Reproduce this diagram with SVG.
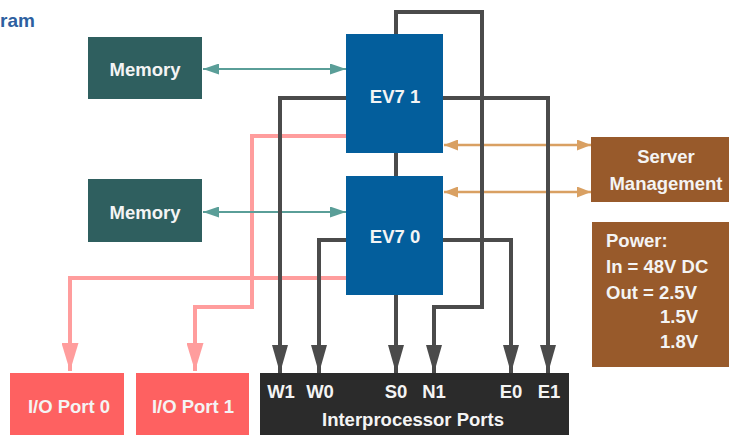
<svg xmlns="http://www.w3.org/2000/svg" width="729" height="435" viewBox="0 0 729 435">
<style>
text{font-family:"Liberation Sans",Arial,sans-serif;font-weight:bold;font-size:18.5px;fill:#f4f4f4}
.c{text-anchor:middle}
.g{fill:none;stroke:#4b4b4b;stroke-width:4;stroke-linejoin:miter}
.p{fill:none;stroke:#ff9d9d;stroke-width:4;stroke-linejoin:miter}
.t{fill:none;stroke:#5a9e98;stroke-width:2}
.o{fill:none;stroke:#d9a062;stroke-width:2.5}
.mem{fill:#2f5f5f}
.cpu{fill:#035e9c}
.brn{fill:#985a2b}
.io{fill:#fe6161}
</style>
<defs>
<marker id="ag" markerUnits="userSpaceOnUse" markerWidth="28" markerHeight="16" refX="28" refY="8" orient="auto"><path d="M0,0 L28,8 L0,16 z" fill="#4b4b4b"/></marker>
<marker id="ap" markerUnits="userSpaceOnUse" markerWidth="28" markerHeight="17" refX="28" refY="8.5" orient="auto"><path d="M0,0 L28,8.5 L0,17 z" fill="#ff9d9d"/></marker>
<marker id="at" markerUnits="userSpaceOnUse" markerWidth="16" markerHeight="11" refX="16" refY="5.5" orient="auto-start-reverse"><path d="M0,0 L16,5.5 L0,11 z" fill="#5a9e98"/></marker>
<marker id="ao" markerUnits="userSpaceOnUse" markerWidth="14" markerHeight="11" refX="14" refY="5.5" orient="auto-start-reverse"><path d="M0,0 L14,5.5 L0,11 z" fill="#d9a062"/></marker>
</defs>
<text x="0" y="27" style="fill:#2d5fa0;font-size:19px">ram</text>
<g id="connectors">
<path class="p" d="M346,136 H252 V307 H195 V371" marker-end="url(#ap)"/>
<path class="p" d="M346,278 H70 V371" marker-end="url(#ap)"/>
<path class="t" d="M203,69 H346" marker-start="url(#at)" marker-end="url(#at)"/>
<path class="t" d="M203,212 H346" marker-start="url(#at)" marker-end="url(#at)"/>
<path class="o" d="M444,145 H591" marker-start="url(#ao)" marker-end="url(#ao)"/>
<path class="o" d="M444,192 H591" marker-start="url(#ao)" marker-end="url(#ao)"/>
<path class="g" d="M396,34 V12 H482 V307 H434 V373" marker-end="url(#ag)"/>
<path class="g" d="M346,98 H280 V373" marker-end="url(#ag)"/>
<path class="g" d="M443,98 H548 V373" marker-end="url(#ag)"/>
<path class="g" d="M396,153 V176"/>
<path class="g" d="M346,240 H319 V373" marker-end="url(#ag)"/>
<path class="g" d="M443,240 H511 V373" marker-end="url(#ag)"/>
<path class="g" d="M396,295 V373" marker-end="url(#ag)"/>
</g>
<g id="memory1"><rect class="mem" x="88" y="37" width="114" height="62"/><text class="c" x="145" y="76">Memory</text></g>
<g id="memory0"><rect class="mem" x="88" y="179" width="114" height="63"/><text class="c" x="145" y="219">Memory</text></g>
<g id="ev7-1"><rect class="cpu" x="346" y="34" width="97" height="119"/><text class="c" x="395" y="103">EV7 1</text></g>
<g id="ev7-0"><rect class="cpu" x="346" y="176" width="97" height="119"/><text class="c" x="395" y="243">EV7 0</text></g>
<g id="server-management"><rect class="brn" x="591" y="137" width="140" height="65"/><text class="c" x="666" y="163">Server</text><text class="c" x="666" y="190">Management</text></g>
<g id="power"><rect class="brn" x="592" y="222" width="139" height="145"/>
<text x="606" y="247">Power:</text><text x="606" y="273">In = 48V DC</text><text x="606" y="299">Out = 2.5V</text><text x="660" y="323">1.5V</text><text x="660" y="348">1.8V</text></g>
<g id="io-port-0"><rect class="io" x="10" y="373" width="114" height="64"/><text class="c" x="69" y="413">I/O Port 0</text></g>
<g id="io-port-1"><rect class="io" x="136" y="373" width="113" height="64"/><text class="c" x="193" y="413">I/O Port 1</text></g>
<g id="interprocessor-ports"><rect x="260" y="373" width="309" height="64" fill="#2b2b2b"/>
<text class="c" x="281" y="398">W1</text><text class="c" x="320" y="398">W0</text><text class="c" x="396" y="398">S0</text><text class="c" x="434" y="398">N1</text><text class="c" x="511" y="398">E0</text><text class="c" x="549" y="398">E1</text>
<text class="c" x="413" y="426">Interprocessor Ports</text></g>
</svg>
